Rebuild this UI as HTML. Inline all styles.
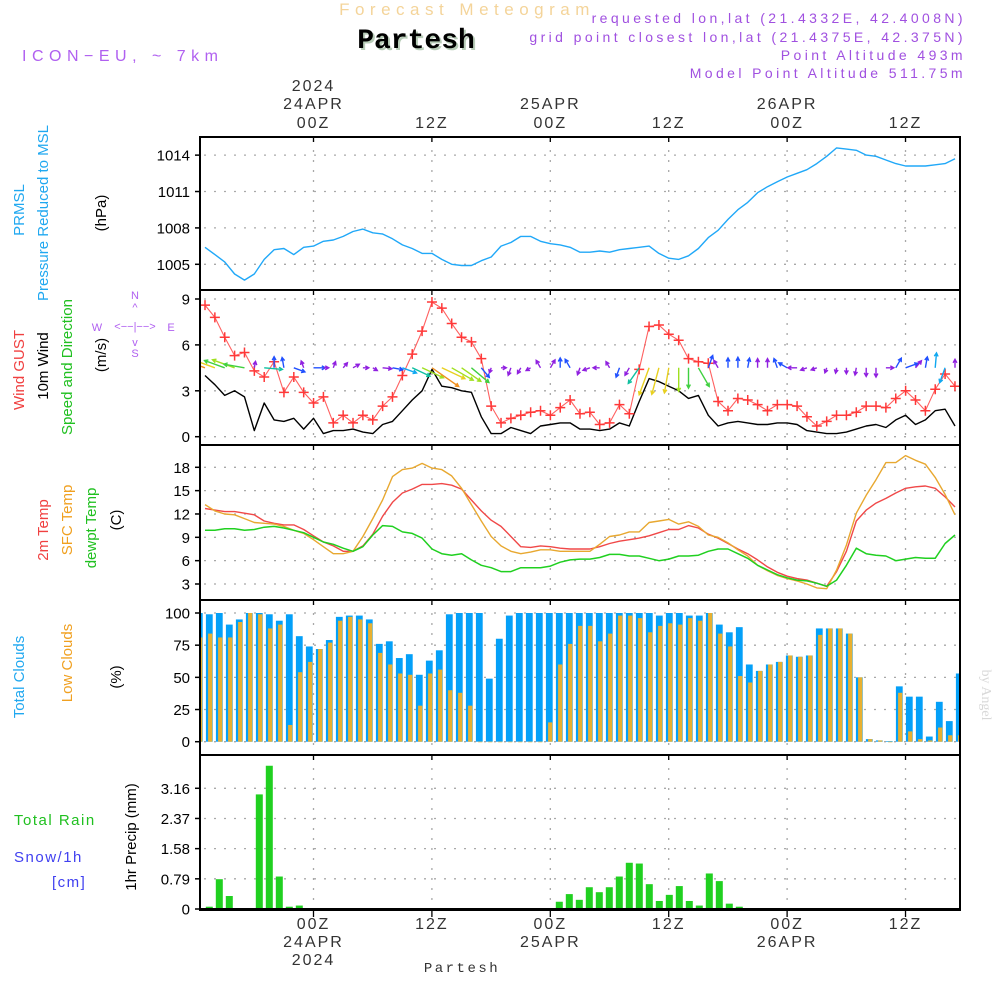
<!DOCTYPE html>
<html><head><meta charset="utf-8">
<style>
html,body{margin:0;padding:0;background:#fff;}
svg{display:block;font-family:"Liberation Sans",sans-serif;}
</style></head>
<body>
<svg id="chart" width="1000" height="1000" viewBox="0 0 1000 1000" xmlns="http://www.w3.org/2000/svg">
<rect x="0" y="0" width="1000" height="1000" fill="#fff"/>
<!-- header -->
<text x="467" y="15" text-anchor="middle" font-size="17" letter-spacing="5.5" fill="#f4d49a">Forecast Meteogram</text>
<text x="418" y="50" text-anchor="middle" font-size="28" font-weight="bold" font-family="Liberation Mono, monospace" fill="#b8ccb8">Partesh</text>
<text x="416" y="48" text-anchor="middle" font-size="28" font-weight="bold" font-family="Liberation Mono, monospace" fill="#000">Partesh</text>
<text x="22" y="61" font-size="16" letter-spacing="5.5" fill="#b060f0">ICON−EU,  ~  7km</text>
<g font-size="14" letter-spacing="3.4" fill="#a050e0" text-anchor="end">
<text x="966" y="23">requested lon,lat (21.4332E, 42.4008N)</text>
<text x="966" y="42">grid point closest lon,lat (21.4375E, 42.375N)</text>
<text x="966" y="60">Point Altitude 493m</text>
<text x="966" y="78">Model Point Altitude 511.75m</text>
</g>
<!-- left labels -->
<g font-size="15">
<text transform="translate(24,210) rotate(-90)" text-anchor="middle" fill="#20a8f0">PRMSL</text>
<text transform="translate(48,213) rotate(-90)" text-anchor="middle" fill="#20a8f0">Pressure Reduced to MSL</text>
<text transform="translate(106,213) rotate(-90)" text-anchor="middle" fill="#000">(hPa)</text>
<text transform="translate(24,370) rotate(-90)" text-anchor="middle" fill="#f04040">Wind GUST</text>
<text transform="translate(48,366) rotate(-90)" text-anchor="middle" fill="#000">10m Wind</text>
<text transform="translate(72,367) rotate(-90)" text-anchor="middle" fill="#20c020">Speed and Direction</text>
<text transform="translate(106,355) rotate(-90)" text-anchor="middle" fill="#000">(m/s)</text>
<text transform="translate(48,530) rotate(-90)" text-anchor="middle" fill="#f04040">2m Temp</text>
<text transform="translate(72,520) rotate(-90)" text-anchor="middle" fill="#f0a020">SFC Temp</text>
<text transform="translate(96,528) rotate(-90)" text-anchor="middle" fill="#20c020">dewpt Temp</text>
<text transform="translate(121,520) rotate(-90)" text-anchor="middle" fill="#000">(C)</text>
<text transform="translate(24,677) rotate(-90)" text-anchor="middle" fill="#20a8f0">Total Clouds</text>
<text transform="translate(72,663) rotate(-90)" text-anchor="middle" fill="#f0a020">Low Clouds</text>
<text transform="translate(121,677) rotate(-90)" text-anchor="middle" fill="#000">(%)</text>
<text transform="translate(136,837) rotate(-90)" text-anchor="middle" fill="#000">1hr Precip (mm)</text>
<text x="14" y="825" fill="#20c020" letter-spacing="1.5">Total  Rain</text>
<text x="14" y="862" fill="#4040f0" letter-spacing="1.5">Snow/1h</text>
<text x="52" y="887" fill="#4040f0" letter-spacing="1.5">[cm]</text>
</g>
<g font-size="11" fill="#b060f0" text-anchor="middle">
<text x="135" y="299">N</text><text x="135" y="311">^</text>
<text x="97" y="331">W</text><text x="135" y="330">&lt;−−|−−&gt;</text><text x="171" y="331">E</text>
<text x="135" y="346">v</text><text x="135" y="357">S</text>
</g>
<text transform="translate(982,695) rotate(90)" text-anchor="middle" font-size="14" font-family="Liberation Serif, serif" fill="#d8d8d8">by Angel</text>
<text x="462" y="972" text-anchor="middle" font-size="14" font-family="Liberation Mono, monospace" letter-spacing="2.5" fill="#333">Partesh</text>
<g id="plot"></g>
</svg>
<script>
// ---- data ----
const timeLabelHours = [0, 12, 24, 36, 48, 60];
const timeLabelTop = ["00Z", "12Z", "00Z", "12Z", "00Z", "12Z"];
const dateLabels = ["24APR", "", "25APR", "", "26APR", ""];
const yearLabels = ["2024", "", "", "", "", ""];
const pressure = [1006.4,1005.8,1005.2,1004.2,1003.7,1004.2,1005.4,1006.2,1006.3,1005.8,1006.4,1006.5,1006.9,1007.0,1007.3,1007.7,1007.9,1007.6,1007.5,1007.1,1006.6,1006.3,1005.9,1005.9,1005.4,1005.0,1004.9,1004.9,1005.3,1005.6,1006.5,1006.8,1007.3,1007.3,1006.9,1006.7,1006.6,1006.4,1006.0,1006.0,1006.1,1006.0,1006.2,1006.3,1006.4,1006.5,1005.9,1005.5,1005.4,1005.7,1006.3,1007.2,1007.8,1008.7,1009.5,1010.1,1010.9,1011.4,1011.8,1012.2,1012.5,1012.8,1013.3,1013.9,1014.6,1014.5,1014.4,1014.0,1013.9,1013.6,1013.3,1013.1,1013.1,1013.1,1013.2,1013.3,1013.7];
const pressureTicks = [1005, 1008, 1011, 1014];
const gust = [8.6,7.8,6.5,5.3,5.5,4.3,3.9,4.9,2.9,3.9,2.9,2.2,2.6,0.9,1.4,0.9,1.4,1.1,2.0,2.6,4.0,5.4,6.9,8.8,8.4,7.4,6.5,6.2,5.1,2.0,0.9,1.2,1.4,1.6,1.7,1.4,1.9,2.4,1.5,1.6,0.8,0.9,2.1,1.5,4.4,7.2,7.3,6.7,6.3,5.1,4.9,4.8,2.3,1.7,2.5,2.4,2.1,1.7,2.1,2.1,2.0,1.3,0.7,1.0,1.4,1.4,1.6,2.0,2.0,1.9,2.5,3.0,2.4,1.7,3.1,4.1,3.3];
const wind10 = [4.0,3.4,2.7,3.0,2.6,0.4,2.2,1.1,1.0,1.2,0.5,1.2,0.2,0.4,0.4,0.5,0.3,0.2,0.8,1.0,1.7,2.4,3.0,4.4,3.3,3.2,3.0,2.9,1.3,0.2,0.2,0.6,0.4,0.2,0.7,0.8,0.9,0.9,0.5,0.5,0.4,0.5,0.9,0.7,2.3,3.8,3.6,3.3,3.0,2.5,2.7,1.4,0.7,0.9,1.0,0.9,0.8,0.8,0.9,0.9,0.8,0.4,0.3,0.2,0.2,0.3,0.5,0.7,0.8,0.6,1.1,1.4,0.8,1.1,1.7,1.8,0.7];
const windDirTo = [290,290,290,290,280,10,95,0,350,110,340,90,90,20,40,60,90,120,95,100,110,115,115,125,115,120,125,130,140,200,90,200,210,240,330,30,0,330,200,250,270,330,200,210,215,200,195,190,180,180,150,20,330,0,0,10,0,0,340,300,270,250,250,200,190,180,190,180,180,90,30,70,40,10,5,200,0];
const windTicks = [0, 3, 6, 9];
const temp2m = [12.7,12.5,12.3,12.3,12.1,11.9,11.1,10.8,10.6,10.6,10.0,9.2,8.4,7.9,7.2,7.2,7.9,9.4,11.7,13.5,14.7,15.2,15.8,15.8,15.9,15.7,15.2,13.8,12.4,11.2,10.4,9.1,7.8,7.7,7.9,7.8,7.6,7.5,7.5,7.5,7.8,8.2,8.5,8.7,8.9,9.2,9.6,10.0,10.0,10.5,10.2,9.4,8.9,8.2,7.5,6.9,6.1,5.2,4.5,4.0,3.7,3.5,3.1,2.7,4.6,7.2,11.1,12.5,13.4,14.0,14.7,15.3,15.5,15.6,15.3,14.2,12.9];
const tempSfc = [13.2,12.4,12.0,11.9,11.4,10.9,10.8,10.7,10.4,9.9,9.5,8.7,7.8,6.9,6.9,7.2,9.1,11.4,13.8,16.8,17.7,17.9,18.5,17.9,17.7,16.9,15.3,13.2,11.1,9.1,7.9,7.2,6.9,7.1,7.4,7.4,7.2,7.2,7.2,7.2,8.1,9.1,9.3,9.7,9.7,10.9,11.1,11.3,10.7,11.0,10.4,9.3,9.0,8.3,7.4,6.6,5.4,4.7,4.1,3.7,3.4,3.0,2.5,2.4,4.8,8.0,12.1,14.4,16.4,18.6,18.6,19.5,18.9,18.4,16.7,14.5,11.9];
const dewpt = [9.9,9.9,10.1,10.1,9.9,10.0,10.3,10.4,10.2,9.9,9.6,9.0,8.4,8.1,7.6,7.2,7.8,9.3,10.5,10.4,9.7,9.5,8.9,7.5,6.9,6.7,6.9,6.1,5.4,5.1,4.6,4.6,5.1,5.1,5.1,5.3,5.8,6.1,6.2,6.2,6.4,6.8,6.8,6.6,6.6,6.3,6.0,6.2,6.6,6.6,6.7,7.2,7.5,7.5,6.9,6.3,5.4,4.8,4.2,3.8,3.5,3.4,3.1,2.7,3.5,5.4,7.6,6.9,6.7,6.6,6.0,6.2,6.4,6.3,6.3,8.2,9.3];
const tempTicks = [3, 6, 9, 12, 15, 18];
const totalClouds = [100,99,100,91,95,100,100,99,94,99,82,74,72,79,97,98,98,95,76,78,65,68,52,63,71,99,100,100,100,49,80,98,100,100,100,100,100,100,100,100,100,100,100,100,100,100,98,100,100,98,98,100,91,85,89,60,55,60,62,67,66,67,88,88,88,84,50,2,1,0.5,43,35,35,4,31,16,53];
const lowClouds = [81,84,81,81,93,100,99,88,91,13,54,62,72,77,94,97,95,92,69,60,53,52,28,53,56,40,38,28,0,0,0,0,0,0,0,15,60,76,90,90,78,84,98,98,96,85,90,92,91,96,94,100,84,74,51,46,55,60,62,67,66,67,83,88,88,84,50,2,1,0,38,8,2,1,11,5,5];
const cloudTicks = [0, 25, 50, 75, 100];
const precip = [0,0.06,0.78,0.34,0,0.01,3.0,3.75,0.85,0.06,0.09,0,0,0,0,0,0,0,0,0,0,0,0,0,0,0,0,0,0,0,0,0,0,0,0,0,0.19,0.39,0.24,0.57,0.44,0.57,0.85,1.21,1.19,0.65,0.21,0.37,0.60,0.21,0.09,0.93,0.73,0.14,0.06,0,0,0,0,0,0,0,0,0,0,0,0,0,0,0,0,0,0,0,0,0,0];
const precipTicks = [0, 0.79, 1.58, 2.37, 3.16];
const precipTickLabels = ["0", "0.79", "1.58", "2.37", "3.16"];

// ---- scales ----
const NS = "http://www.w3.org/2000/svg";
const plot = document.getElementById("plot");
const X0 = 200, X1 = 960;
const xLine = i => 205 + i * 9.868;
const xBar = i => 199.3 + i * 10;
const xTime = h => 313.5 + h * 9.867;
const panels = [
  {name:"pressure", top:137, bot:290},
  {name:"wind", top:290, bot:445},
  {name:"temp", top:445, bot:600},
  {name:"cloud", top:600, bot:755},
  {name:"precip", top:755, bot:910}
];
const yP = v => 264.3 - (v - 1005) * 12.13;
const yW = v => 436.7 - v * 15.3;
const yT = v => 584 - (v - 3) * 7.78;
const yC = v => 741.7 - v * 1.287;
const yR = v => 909 - v * 38.2;

function el(tag, attrs, parent) {
  const e = document.createElementNS(NS, tag);
  for (const k in attrs) e.setAttribute(k, attrs[k]);
  (parent || plot).appendChild(e);
  return e;
}
function txt(s, attrs) { const t = el("text", attrs); t.textContent = s; return t; }

const defs = el("defs", {});
const cp = el("clipPath", {id:"clipPlot"}, defs);
el("rect", {x:X0, y:137, width:X1-X0, height:773}, cp);

const grid = el("g", {stroke:"#a8a8a8", "stroke-width":1.3, "stroke-dasharray":"2,8", fill:"none"});


function hgrid(y){ el("line", {x1:X0+4, x2:X1, y1:y, y2:y}, grid); }
pressureTicks.forEach(v => hgrid(yP(v)));
windTicks.forEach(v => hgrid(yW(v)));
tempTicks.forEach(v => hgrid(yT(v)));
cloudTicks.forEach(v => hgrid(yC(v)));
precipTicks.forEach(v => hgrid(yR(v)));
timeLabelHours.forEach(h => {
  panels.forEach(p => el("line", {x1:xTime(h), x2:xTime(h), y1:p.top+3, y2:p.bot-2}, grid));
});

function yTicks(vals, labels, yf, panelName) {
  vals.forEach((v, k) => {
    const y = yf(v);
    el("line", {x1:195, x2:200, y1:y, y2:y, stroke:"#000", "stroke-width":1.5});
    const t = txt(labels[k], {x:190, y:y+5.5, "text-anchor":"end", "font-size":15, fill:"#000"});
    
    
  });
}
yTicks(pressureTicks, pressureTicks.map(String), yP, "pressure");
yTicks(windTicks, windTicks.map(String), yW, "wind");
yTicks(tempTicks, tempTicks.map(String), yT, "temp");
yTicks(cloudTicks, cloudTicks.map(String), yC, "cloud");
yTicks(precipTicks, precipTickLabels, yR, "precip");

timeLabelHours.forEach((h, k) => {
  const x = xTime(h);
  const a = txt(timeLabelTop[k], {x:x, y:128, "text-anchor":"middle", "font-size":16, "letter-spacing":2, fill:"#333"});
  
  
  if (dateLabels[k]) {
    const d = txt(dateLabels[k], {x:x, y:109, "text-anchor":"middle", "font-size":16, "letter-spacing":2, fill:"#333"});
    
    
    const d2 = txt(dateLabels[k], {x:x, y:947, "text-anchor":"middle", "font-size":16, "letter-spacing":2, fill:"#333"});
    
    
  }
  if (yearLabels[k]) {
    const yr = txt(yearLabels[k], {x:x, y:91, "text-anchor":"middle", "font-size":16, "letter-spacing":2, fill:"#333"});
    
    
    const yr2 = txt(yearLabels[k], {x:x, y:965, "text-anchor":"middle", "font-size":16, "letter-spacing":2, fill:"#333"});
    
    
  }
  const b = txt(timeLabelTop[k], {x:x, y:929, "text-anchor":"middle", "font-size":16, "letter-spacing":2, fill:"#333"});
  
  
  panels.forEach(p => {
    el("line", {x1:x, x2:x, y1:p.top, y2:p.top+5, stroke:"#000", "stroke-width":1.3});
  });
  el("line", {x1:x, x2:x, y1:910, y2:917, stroke:"#000", "stroke-width":1.3});
});

const g = el("g", {"clip-path":"url(#clipPlot)"});



function poly(arr, yf, color, name, w) {
  const pts = arr.map((v, i) => xLine(i).toFixed(1) + "," + yf(v).toFixed(1)).join(" ");
  const p = el("polyline", {points:pts, fill:"none", stroke:color, "stroke-width":w||1.4, "stroke-linejoin":"round"}, g);
  
  
}

totalClouds.forEach((v, i) => {
  const x = xBar(i);
  const r = el("rect", {x:x-3.4, y:yC(v), width:6.8, height:yC(0)-yC(v), fill:"#04a0f8"}, g);
  
  
});
lowClouds.forEach((v, i) => {
  const x = xBar(i);
  const r = el("rect", {x:x-1.2, y:yC(v), width:4.2, height:Math.max(0.6, yC(0)-yC(v)), fill:"#e8b030"}, g);
  
  
});
precip.forEach((v, i) => {
  if (v <= 0) return;
  const x = xBar(i);
  const r = el("rect", {x:x-3.5, y:yR(v), width:7, height:yR(0)-yR(v), fill:"#20d020"}, g);
  
  
});

poly(pressure, yP, "#20a8f8", "pressure-line", 1.4);
poly(temp2m, yT, "#f04848", "temp-2m-line", 1.4);
poly(tempSfc, yT, "#e8a830", "temp-sfc-line", 1.4);
poly(dewpt, yT, "#20d020", "dewpoint-line", 1.5);
poly(wind10, yW, "#000", "wind-10m-line", 1.4);
poly(gust, yW, "#ff6060", "gust-line", 1.1);
gust.forEach((v, i) => {
  const x = xLine(i), y = yW(v);
  const c = el("path", {d:`M${x-5},${y}H${x+5}M${x},${y-5}V${y+5}`, stroke:"#ff3838", "stroke-width":1.5}, g);
  
  
});
function windColor(s) {
  if (s < 0.9) return "#9020e0";
  if (s < 1.5) return "#2050ff";
  if (s < 2.0) return "#10a8f0";
  if (s < 2.5) return "#10c0a0";
  if (s < 3.0) return "#40d040";
  if (s < 3.3) return "#a0e020";
  if (s < 3.9) return "#e8d020";
  return "#f09020";
}
wind10.forEach((s, i) => {
  const x = xLine(i), y = yW(4.5);
  const L = 4 + 6.5 * s;
  const a = windDirTo[i] * Math.PI / 180;
  const dx = Math.sin(a), dy = -Math.cos(a);
  const ex = x + L * dx, ey = y + L * dy;
  const h = 4;
  const lx = ex - h * (dx * Math.cos(0.5) - dy * Math.sin(0.5)), ly = ey - h * (dy * Math.cos(0.5) + dx * Math.sin(0.5));
  const rx = ex - h * (dx * Math.cos(0.5) + dy * Math.sin(0.5)), ry = ey - h * (dy * Math.cos(0.5) - dx * Math.sin(0.5));
  const p = el("path", {d:`M${x.toFixed(1)},${y.toFixed(1)}L${ex.toFixed(1)},${ey.toFixed(1)}M${lx.toFixed(1)},${ly.toFixed(1)}L${ex.toFixed(1)},${ey.toFixed(1)}L${rx.toFixed(1)},${ry.toFixed(1)}`, stroke:windColor(s), "stroke-width":1.4, fill:"none"}, g);
  
  
});

panels.forEach(p => {
  const r = el("rect", {x:X0, y:p.top, width:X1-X0, height:p.bot-p.top, fill:"none", stroke:"#000", "stroke-width":2});
  
  
});
el("line", {x1:X0, x2:X1, y1:909.5, y2:909.5, stroke:"#000", "stroke-width":3});
</script>
</body></html>
